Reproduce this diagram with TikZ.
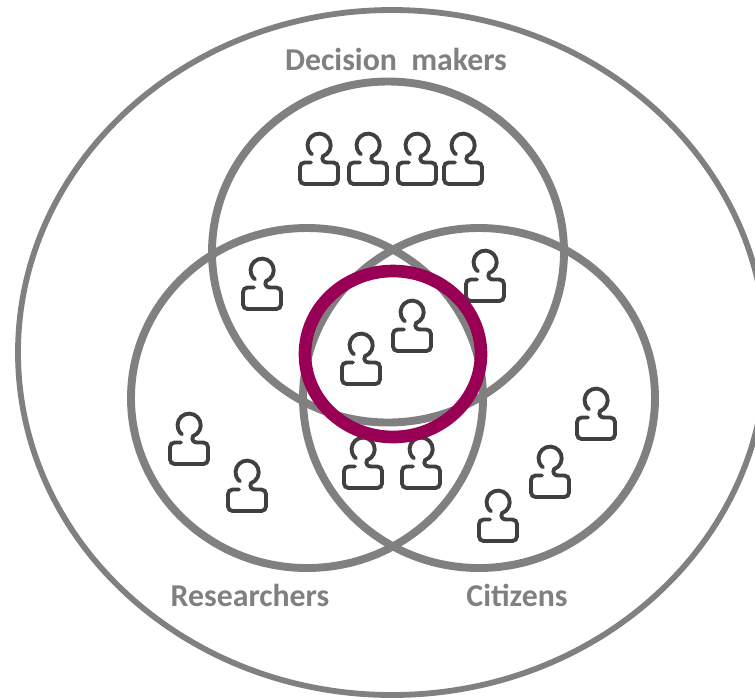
\documentclass[tikz,border=0pt]{standalone}
\usepackage{fontspec}
\setmainfont{Carlito}
\definecolor{ringgray}{HTML}{808080}
\definecolor{ringplum}{HTML}{990055}
\definecolor{icondark}{HTML}{404040}
\tikzset{
  ring/.style={draw=ringgray, line width=4.5pt},
  outerring/.style={draw=ringgray, line width=3.3pt},
  focusring/.style={draw=ringplum, line width=7.2pt},
  grouplabel/.style={text=ringgray, font=\bfseries\fontsize{18.1}{20}\selectfont},
  personicon/.pic={
    %body
    \draw[draw=icondark, line width=2.2pt, line cap=round, rounded corners=2.6pt]
      (-8,-3.5)--(-19,-3.5)--(-19,-25)--(19,-25)--(19,-3.5)--(8,-3.5);
    %neck and head
    \draw[draw=icondark, line width=2.2pt, line cap=round]
      (8,-3.5) .. controls (5,-3.5) and (2,-1) .. (4.1,2.9)
      arc[start angle=-70, end angle=232, radius=11.6];
  }
}
\begin{document}
\begin{tikzpicture}[x=0.02cm, y=0.02cm]
\clip (0,0) rectangle (755,-698);

%rings
\draw[outerring] (392,-352.5) ellipse [x radius=374, y radius=342.5];
\draw[ring] (388,-252) ellipse [x radius=176, y radius=170.5];
\draw[ring] (307,-398) ellipse [x radius=176, y radius=170];
\draw[ring] (479,-398) ellipse [x radius=176, y radius=170];

%people
\foreach \px/\py in {319/159, 368/159, 417/159, 463/159, 262/284, 485/276,
  412/326, 361/359, 363/463, 421/463, 189/439, 247/486, 596/414, 550/472, 498/516}
  \pic at (\px,-\py) {personicon};

\draw[focusring] (393,-354) ellipse [x radius=88, y radius=83];

%labels
\node[grouplabel] (decision) at (396,-59) {Decision\ \ makers};
\node[grouplabel] (researchers) at (250,-595) {Researchers};
\node[grouplabel] (citizens) at (517,-595) {Citizens};

\end{tikzpicture}
\end{document}
